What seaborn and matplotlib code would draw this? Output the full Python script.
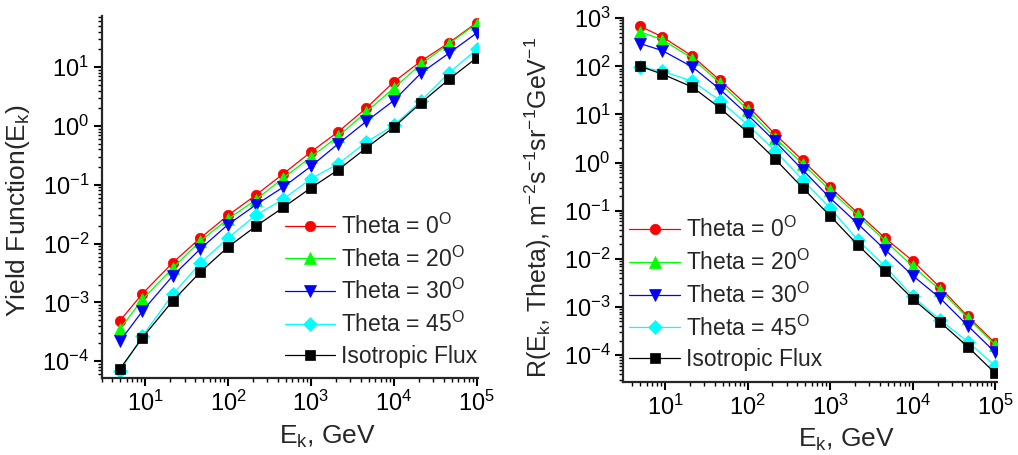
import numpy as np
import pandas as pd
import matplotlib
matplotlib.use("Agg")
import matplotlib.pyplot as plt
import seaborn as sns
from matplotlib.ticker import FixedLocator, LogFormatterMathtext, NullFormatter

# ---- data ----
energy = [5, 9.3, 21.5, 46.4, 100, 215, 464, 1000, 2150, 4640, 10000, 21500, 46400, 100000]

labels = [r"Theta = 0$^\mathregular{O}$", r"Theta = 20$^\mathregular{O}$",
          r"Theta = 30$^\mathregular{O}$", r"Theta = 45$^\mathregular{O}$", "Isotropic Flux"]

yield_theta0 = [4.9e-4, 1.4e-3, 4.7e-3, 0.0124, 0.030, 0.066, 0.153, 0.36, 0.80, 2.0, 5.6, 12.8, 26, 57]
yield_theta20 = [3.55e-4, 1.12e-3, 3.8e-3, 0.011, 0.026, 0.055, 0.13, 0.295, 0.67, 1.72, 4.4, 11.4, 25, 55]
yield_theta30 = [2.2e-4, 7.1e-4, 2.8e-3, 8.1e-3, 0.021, 0.045, 0.091, 0.205, 0.50, 1.19, 2.7, 8.0, 17.3, 38]
yield_theta45 = [6.8e-5, 2.67e-4, 1.36e-3, 4.65e-3, 0.0124, 0.030, 0.057, 0.126, 0.227, 0.53, 1.02, 2.7, 8.0, 20]
yield_iso = [7.4e-5, 2.5e-4, 1.05e-3, 3.27e-3, 8.7e-3, 0.0195, 0.041, 0.088, 0.18, 0.42, 0.95, 2.5, 6.2, 14.4]

rate_theta0 = [680, 408, 162, 51, 15.2, 3.9, 1.11, 0.31, 0.090, 0.027, 9.1e-3, 2.55e-3, 6.4e-4, 1.77e-4]
rate_theta20 = [519, 359, 145, 45, 12.6, 3.25, 0.95, 0.265, 0.080, 0.0238, 7.0e-3, 2.28e-3, 5.9e-4, 1.64e-4]
rate_theta30 = [297, 212, 97, 33, 9.9, 2.77, 0.71, 0.184, 0.054, 0.0155, 4.5e-3, 1.53e-3, 4.1e-4, 1.14e-4]
rate_theta45 = [97, 79, 49, 19.4, 6.1, 1.77, 0.44, 0.114, 0.025, 7.0e-3, 1.66e-3, 5.4e-4, 1.9e-4, 6.0e-5]
rate_iso = [100, 69, 37, 13.6, 4.25, 1.19, 0.30, 0.078, 0.0197, 5.5e-3, 1.48e-3, 4.85e-4, 1.5e-4, 4.2e-5]

x_major = [1e1, 1e2, 1e3, 1e4, 1e5]
yL_major = [1e-4, 1e-3, 1e-2, 1e-1, 1e0, 1e1]
yR_major = [1e-4, 1e-3, 1e-2, 1e-1, 1e0, 1e1, 1e2, 1e3]

colors = ["#FF0000", "#00FF00", "#0000FF", "#00FFFF", "#000000"]
markers = ["o", "^", "v", "D", "s"]
msizes = [7.5, 8, 8, 7, 6.5]

sns.set_theme(style="ticks")
plt.rcParams["font.family"] = ["Liberation Sans", "DejaVu Sans"]
plt.rcParams["mathtext.fontset"] = "custom"
plt.rcParams["mathtext.rm"] = "Liberation Sans"
plt.rcParams["mathtext.it"] = "Liberation Sans:italic"
plt.rcParams["mathtext.bf"] = "Liberation Sans:bold"
plt.rcParams["axes.linewidth"] = 1.6

fig = plt.figure(figsize=(10.18, 4.55), dpi=100)
axL = fig.add_axes([0.0999, 0.1686, 0.3697, 0.7969])
axR = fig.add_axes([0.612, 0.161, 0.367, 0.799])


def minor_ticks(lo, hi):
    out = []
    for e in range(int(np.floor(np.log10(lo))) - 1, int(np.ceil(np.log10(hi))) + 1):
        for s in range(2, 10):
            v = s * 10.0 ** e
            if lo <= v <= hi:
                out.append(v)
    return out


def draw(ax, series, xlim, ylim, ymajor):
    for vals, lab, c, m, ms in zip(series, labels, colors, markers, msizes):
        df = pd.DataFrame({"E": energy, "V": vals})
        sns.lineplot(data=df, x="E", y="V", ax=ax, color=c, marker=m, markersize=ms,
                     markeredgecolor=c, markeredgewidth=0.5, linewidth=0.9, label=lab,
                     legend=False)
    ax.set_xscale("log")
    ax.set_yscale("log")
    ax.set_xlim(*xlim)
    ax.set_ylim(*ylim)
    ax.xaxis.set_major_locator(FixedLocator(x_major))
    ax.xaxis.set_minor_locator(FixedLocator(minor_ticks(*xlim)))
    ax.yaxis.set_major_locator(FixedLocator(ymajor))
    ax.yaxis.set_minor_locator(FixedLocator(minor_ticks(*ylim)))
    ax.xaxis.set_major_formatter(LogFormatterMathtext())
    ax.yaxis.set_major_formatter(LogFormatterMathtext())
    ax.xaxis.set_minor_formatter(NullFormatter())
    ax.yaxis.set_minor_formatter(NullFormatter())
    ax.tick_params(which="major", direction="out", length=6, width=1.5, labelsize=17, pad=3,
                   color="black", labelcolor="black")
    ax.tick_params(which="minor", direction="out", length=3, width=1.0, color="black")
    sns.despine(ax=ax)
    ax.set_xlabel(r"E$_\mathregular{k}$, GeV", fontsize=19)
    ax.xaxis.set_label_coords(0.599, -0.125)
    ax.grid(False)


legend_kw = dict(loc="lower left", frameon=False, fontsize=16.5, handlelength=2.2,
                 handletextpad=0.25, labelspacing=0.33, borderaxespad=0.0,
                 borderpad=0.2, numpoints=1)

draw(axL, [yield_theta0, yield_theta20, yield_theta30, yield_theta45, yield_iso],
     (3.0, 1.04e5), (5.1e-5, 75), yL_major)
axL.set_ylabel(r"Yield Function(E$_\mathregular{k}$)", fontsize=19)
axL.yaxis.set_label_coords(-0.185, 0.464)
axL.legend(bbox_to_anchor=(0.475, 0.017), **legend_kw)

draw(axR, [rate_theta0, rate_theta20, rate_theta30, rate_theta45, rate_iso],
     (3.1, 1.04e5), (2.8e-5, 1e3), yR_major)
axR.set_ylabel(r"R(E$_\mathregular{k}$, Theta), m$^\mathregular{-2}$s$^\mathregular{-1}$sr$^\mathregular{-1}$GeV$^\mathregular{-1}$",
               fontsize=18)
axR.yaxis.set_label_coords(-0.185, 0.478)
axR.legend(bbox_to_anchor=(0.005, 0.017), **legend_kw)

fig.savefig("out.png", dpi=100)
